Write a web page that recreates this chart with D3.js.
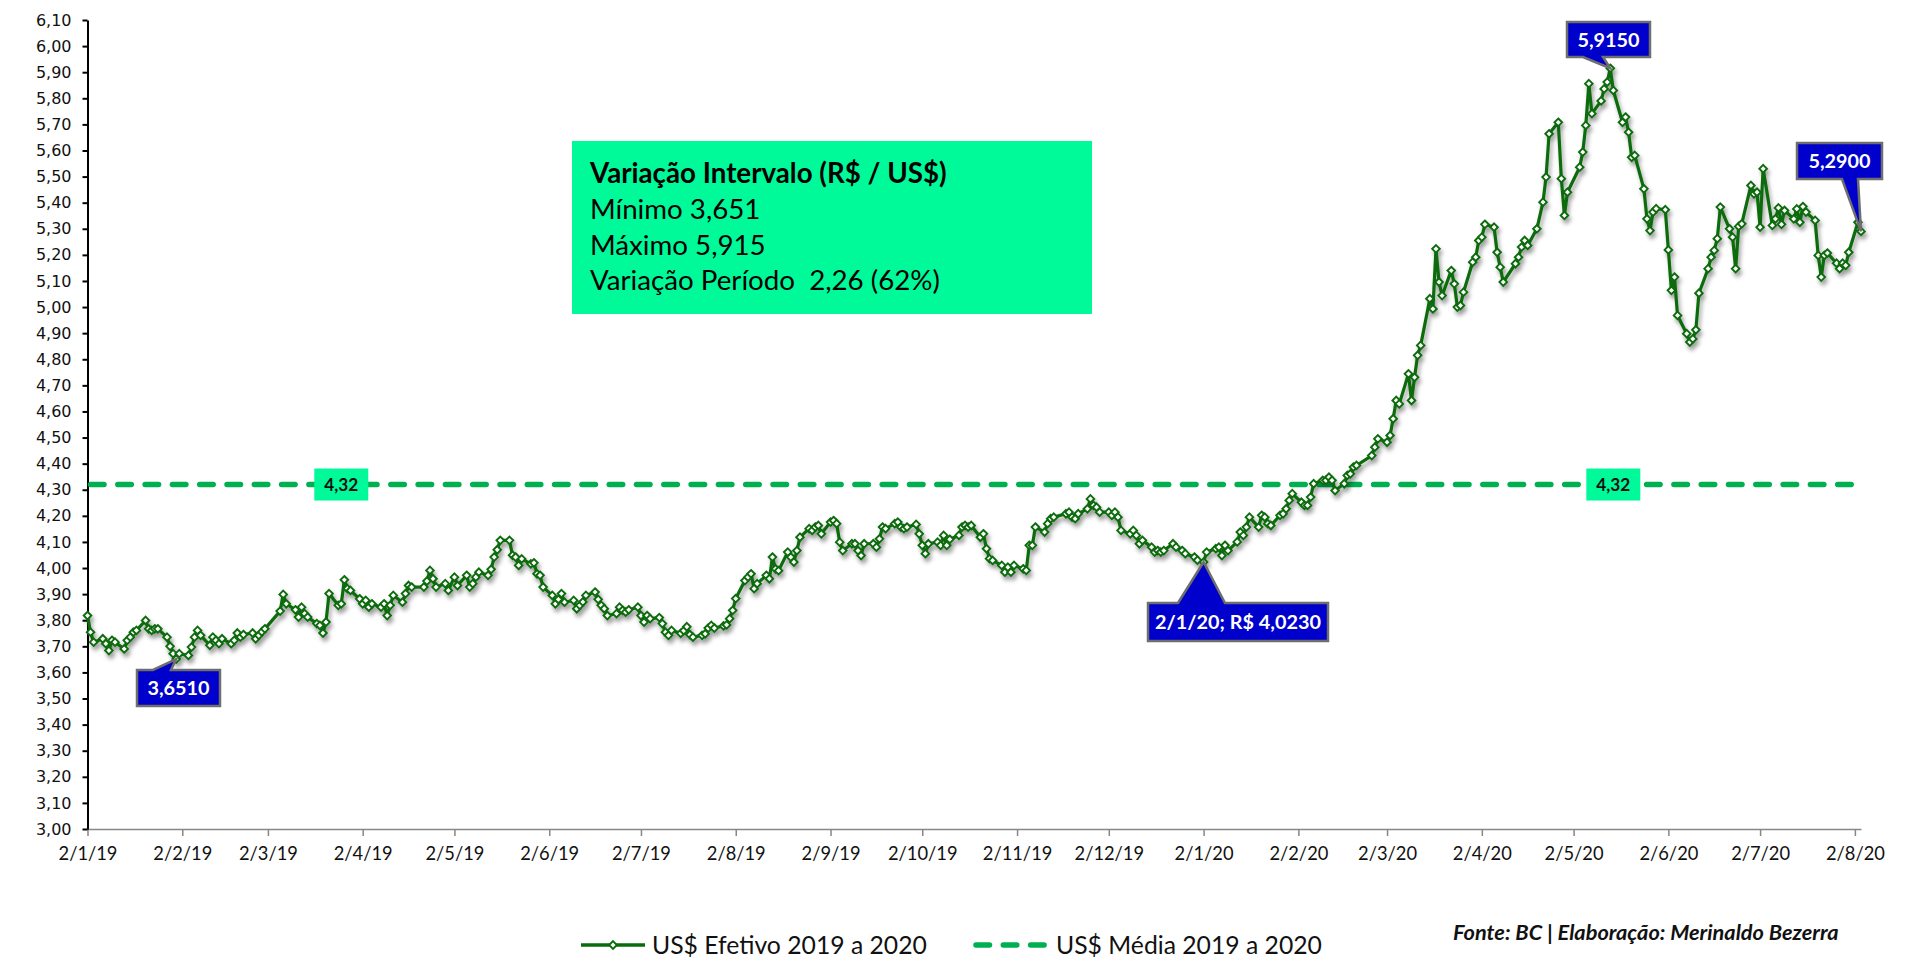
<!DOCTYPE html>
<html><head><meta charset="utf-8">
<script src="https://cdn.jsdelivr.net/npm/d3@7"></script>
<style>
html,body{margin:0;padding:0;background:#fff;}
svg{display:block;}
text{white-space:pre;}
</style></head><body>
<svg id="chart" width="1907" height="960"></svg>
<script>
// ---------------- DATA ----------------
const startDate = "2019-01-02";
const endDate = "2020-08-04";
const holidays = ["2019-03-04","2019-03-05","2019-04-19","2019-05-01","2019-11-15","2019-12-25",
                  "2020-01-01","2020-02-24","2020-02-25","2020-04-10","2020-04-21","2020-05-01"];

// US$ Efetivo, one value per trading day (R$ / US$)
const values2019 = [
  // Jan
  3.818,3.754,3.716,3.729,3.710,3.684,3.723,3.716,3.690,3.723,3.735,3.754,3.761,3.799,3.767,3.761,3.767,3.767,3.735,3.700,3.672,3.651,
  // Feb
  3.672,3.665,3.697,3.735,3.761,3.742,3.704,3.735,3.723,3.710,3.729,3.710,3.723,3.751,3.735,3.745,3.751,3.729,3.742,3.755,
  // Mar
  3.767,3.835,3.899,3.863,3.840,3.812,3.850,3.825,3.812,3.787,3.780,3.751,3.793,3.902,3.857,3.863,3.955,3.921,3.914,
  // Apr
  3.882,3.863,3.876,3.850,3.863,3.850,3.863,3.818,3.857,3.895,3.869,3.902,3.933,3.927,3.927,3.950,3.991,3.959,3.927,3.940,3.914,
  // May
  3.965,3.933,3.972,3.927,3.940,3.965,3.984,3.972,3.995,4.042,4.070,4.106,4.106,4.049,4.042,4.010,4.035,4.016,4.020,3.978,3.972,3.927,
  // Jun
  3.895,3.863,3.880,3.902,3.869,3.876,3.844,3.857,3.870,3.895,3.908,3.880,3.857,3.844,3.818,3.825,3.850,3.838,3.831,3.840,
  // Jul
  3.850,3.818,3.793,3.818,3.806,3.810,3.787,3.754,3.742,3.761,3.750,3.760,3.775,3.745,3.735,3.742,3.748,3.770,3.780,3.770,3.778,3.782,3.806,
  // Aug
  3.838,3.883,3.952,3.965,3.978,3.921,3.940,3.972,3.959,4.042,3.997,3.990,4.061,4.042,4.023,4.067,4.118,4.151,4.144,4.157,4.163,4.131,
  // Sep
  4.176,4.182,4.170,4.099,4.067,4.093,4.093,4.067,4.048,4.093,4.093,4.080,4.112,4.157,4.151,4.170,4.176,4.157,4.151,4.157,4.167,
  // Oct
  4.131,4.087,4.055,4.093,4.099,4.087,4.125,4.087,4.110,4.125,4.157,4.163,4.157,4.163,4.118,4.131,4.074,4.036,4.029,4.010,3.984,4.003,3.984,
  // Nov
  4.010,3.997,3.991,4.087,4.087,4.157,4.138,4.170,4.189,4.195,4.208,4.214,4.195,4.189,4.208,4.227,4.265,4.240,4.233,4.214,
  // Dec
  4.214,4.202,4.214,4.195,4.144,4.131,4.144,4.125,4.093,4.106,4.080,4.061,4.067,4.061,4.067,4.093,4.080,4.067,4.055,4.042,4.030
];
const values2020 = [
  // Jan
  4.023,4.061,4.074,4.080,4.048,4.087,4.067,4.100,4.138,4.125,4.157,4.195,4.157,4.202,4.195,4.170,4.163,4.202,4.208,4.227,4.259,4.285,
  // Feb
  4.252,4.240,4.240,4.272,4.323,4.336,4.336,4.348,4.336,4.297,4.323,4.355,4.361,4.387,4.393,4.431,4.463,4.495,
  // Mar
  4.482,4.508,4.572,4.642,4.629,4.744,4.642,4.731,4.815,4.853,5.032,4.993,5.223,5.096,5.044,5.140,5.089,5.000,5.006,5.057,5.172,5.191,
  // Apr
  5.255,5.268,5.317,5.306,5.210,5.153,5.096,5.166,5.191,5.230,5.255,5.236,5.300,5.402,5.498,5.664,5.708,5.492,5.351,5.440,
  // May
  5.536,5.594,5.696,5.856,5.741,5.790,5.836,5.862,5.915,5.830,5.708,5.728,5.670,5.574,5.581,5.453,5.338,5.293,5.364,5.377,
  // Jun
  5.373,5.219,5.064,5.115,4.968,4.898,4.866,4.878,4.913,5.053,5.147,5.191,5.217,5.262,5.383,5.300,5.268,5.147,5.309,5.319,5.466,5.434,
  // Jul
  5.440,5.306,5.530,5.313,5.338,5.380,5.317,5.370,5.338,5.376,5.325,5.385,5.364,5.332,5.198,5.115,5.198,5.207,5.168,5.147,5.168,5.160,5.210,
  // Aug
  5.325,5.290
];

const meanValue = 4.32;
const meanLabelDates = ["2019-03-26","2020-05-15"];

const yTickValues = [3.00,3.10,3.20,3.30,3.40,3.50,3.60,3.70,3.80,3.90,4.00,4.10,4.20,4.30,4.40,4.50,4.60,4.70,4.80,4.90,
                     5.00,5.10,5.20,5.30,5.40,5.50,5.60,5.70,5.80,5.90,6.00,6.10];
const xTickValues = ["2019-01-02","2019-02-02","2019-03-02","2019-04-02","2019-05-02","2019-06-02","2019-07-02",
                     "2019-08-02","2019-09-02","2019-10-02","2019-11-02","2019-12-02","2020-01-02","2020-02-02",
                     "2020-03-02","2020-04-02","2020-05-02","2020-06-02","2020-07-02","2020-08-02"];

const calloutDates  = ["2019-01-31","2020-01-02","2020-05-14","2020-08-04"];
const calloutValues = [3.651, 4.023, 5.915, 5.290];
const calloutTexts  = ["3,6510","2/1/20; R$ 4,0230","5,9150","5,2900"];

const infoTitle = "Variação Intervalo (R$ / US$)";
const infoLines = ["Mínimo 3,651","Máximo 5,915","Variação Período  2,26 (62%)"];
const legendLabels = ["US$ Efetivo 2019 a 2020","US$ Média 2019 a 2020"];
const sourceText = "Fonte: BC | Elaboração: Merinaldo Bezerra";

// ---------------- BUILD ----------------
const parseDate = d3.utcParse("%Y-%m-%d");
const fmtKey = d3.utcFormat("%Y-%m-%d");
const holidaySet = new Set(holidays);
const tradingDays = [];
for (let d = parseDate(startDate); d <= parseDate(endDate); d = d3.utcDay.offset(d, 1)) {
  const wd = d.getUTCDay();
  if (wd !== 0 && wd !== 6 && !holidaySet.has(fmtKey(d))) tradingDays.push(d);
}
const allValues = values2019.concat(values2020);
const series = allValues.map((v, i) => ({date: tradingDays[i], value: v})).filter(d => d.date);

const svg = d3.select("#chart");
const X0 = 87.5, X1 = 1861, Y0 = 829, Y1 = 20;
const x = d3.scaleUtc().domain([parseDate(startDate), parseDate(endDate)]).range([X0, X1]);
const y = d3.scaleLinear().domain([3.0, 6.1]).range([Y0, Y1]);

const LINE = "#0a6b0a", MEAN = "#00B050", MINT = "#00FA9A", CALL = "#0000CC";
const SANS = "Lato, 'Open Sans', sans-serif";

function fitSize(str, family, weight, style, target) {
  const t = svg.append("text").attr("font-family", family).attr("font-weight", weight)
    .attr("font-style", style).attr("font-size", 100).text(str);
  const w = t.node().getComputedTextLength();
  t.remove();
  return 100 * target / w;
}

const defs = svg.append("defs");
const f = defs.append("filter").attr("id", "shadow").attr("x", "-5%").attr("y", "-5%")
  .attr("width", "110%").attr("height", "120%");
f.append("feDropShadow").attr("dx", 2).attr("dy", 4).attr("stdDeviation", 2.2)
  .attr("flood-color", "#000").attr("flood-opacity", 0.38);

// X axis
const xFont = fitSize("2/1/19", SANS, "normal", "normal", 59);
const gx = svg.append("g").attr("transform", `translate(0,${Y0})`)
  .call(d3.axisBottom(x).tickValues(xTickValues.map(parseDate)).tickSize(7).tickSizeOuter(0)
    .tickPadding(11).tickFormat(d3.utcFormat("%-d/%-m/%y")));
gx.select(".domain").attr("stroke", "#878787").attr("stroke-width", 1.5);
gx.selectAll(".tick line").attr("stroke", "#878787").attr("stroke-width", 1.5);
gx.selectAll("text").attr("font-family", SANS).attr("font-size", xFont).attr("fill", "#111");

// Y axis
const gy = svg.append("g").attr("transform", `translate(${X0},0)`)
  .call(d3.axisLeft(y).tickValues(yTickValues).tickSize(5).tickSizeOuter(0).tickPadding(11)
    .tickFormat(d => d.toFixed(2).replace(".", ",")));
gy.select(".domain").attr("stroke", "#000").attr("stroke-width", 2);
gy.selectAll(".tick line").attr("stroke", "#000").attr("stroke-width", 2);
gy.selectAll("text").attr("font-family", "'DejaVu Sans', Verdana, sans-serif").attr("font-size", 16).attr("fill", "#111");

// Mean dashed line
const dash = "13.5,13.8";
svg.append("line").attr("x1", X0 + 3).attr("x2", X1).attr("y1", y(meanValue)).attr("y2", y(meanValue))
  .attr("stroke", MEAN).attr("stroke-width", 5.5).attr("stroke-dasharray", dash).attr("stroke-linecap", "round");

// Series with shadow
const gs = svg.append("g").attr("filter", "url(#shadow)");
gs.append("path").datum(series)
  .attr("d", d3.line().x(d => x(d.date)).y(d => y(d.value)))
  .attr("fill", "none").attr("stroke", LINE).attr("stroke-width", 3.2).attr("stroke-linejoin", "round");
const diamond = r => `M0,${-r}L${r},0L0,${r}L${-r},0Z`;
gs.selectAll("path.mk").data(series).join("path").attr("class", "mk")
  .attr("transform", d => `translate(${x(d.date)},${y(d.value)})`)
  .attr("d", diamond(3.8)).attr("fill", "#fff").attr("stroke", LINE).attr("stroke-width", 1.9);

// Mean labels
const mFont = fitSize("4,32", SANS, "bold", "normal", 34);
meanLabelDates.forEach(ds => {
  const cx = x(parseDate(ds)), cy = y(meanValue);
  svg.append("rect").attr("x", cx - 27).attr("y", cy - 16).attr("width", 54).attr("height", 32).attr("fill", MINT);
  svg.append("text").attr("x", cx).attr("y", cy).attr("dy", "0.36em").attr("text-anchor", "middle")
    .attr("font-family", SANS).attr("font-weight", "bold").attr("font-size", mFont).attr("fill", "#111").text("4,32");
});

// Info box
svg.append("rect").attr("x", 572).attr("y", 141).attr("width", 520).attr("height", 173).attr("fill", MINT);
const infoFont = fitSize(infoLines[2], SANS, "normal", "normal", 350);
const titleFont = fitSize(infoTitle, SANS, "bold", "normal", 361);
svg.append("text").attr("x", 590).attr("y", 183).attr("font-family", SANS).attr("font-weight", "bold")
  .attr("font-size", Math.min(titleFont, infoFont)).attr("fill", "#000").text(infoTitle);
infoLines.forEach((s, i) => {
  svg.append("text").attr("x", 590).attr("y", 219 + i * 35.5).attr("font-family", SANS)
    .attr("font-size", infoFont).attr("fill", "#000").text(s);
});

// Callouts
const boxes = [
  {bx: 137, by: 670, w: 83, h: 36, side: "top", t1: 153, t2: 171},
  {bx: 1148, by: 603, w: 180, h: 38, side: "top", t1: 1178, t2: 1225},
  {bx: 1567, by: 22, w: 83, h: 35, side: "bottom", t1: 1583, t2: 1603},
  {bx: 1797, by: 143, w: 85, h: 36, side: "bottom", t1: 1842, t2: 1858}
];
const cFont = fitSize(calloutTexts[1], SANS, "bold", "normal", 166);
calloutTexts.forEach((txt, i) => {
  const b = boxes[i];
  const tx = x(parseDate(calloutDates[i])), ty = y(calloutValues[i]);
  let p;
  if (b.side === "top") {
    p = `M${b.bx},${b.by}L${b.t1},${b.by}L${tx},${ty}L${b.t2},${b.by}L${b.bx + b.w},${b.by}L${b.bx + b.w},${b.by + b.h}L${b.bx},${b.by + b.h}Z`;
  } else {
    p = `M${b.bx},${b.by}L${b.bx + b.w},${b.by}L${b.bx + b.w},${b.by + b.h}L${b.t2},${b.by + b.h}L${tx},${ty}L${b.t1},${b.by + b.h}L${b.bx},${b.by + b.h}Z`;
  }
  svg.append("path").attr("d", p).attr("fill", CALL).attr("stroke", "#6e6e6e").attr("stroke-width", 2.5).attr("stroke-linejoin", "miter");
  svg.append("text").attr("x", b.bx + b.w / 2).attr("y", b.by + b.h / 2).attr("dy", "0.36em")
    .attr("text-anchor", "middle").attr("font-family", SANS).attr("font-weight", "bold")
    .attr("font-size", cFont).attr("fill", "#fff").text(txt);
});

// Legend
const lgY = 945;
const lgFont = fitSize(legendLabels[0], SANS, "normal", "normal", 275);
svg.append("line").attr("x1", 581).attr("x2", 645).attr("y1", lgY).attr("y2", lgY)
  .attr("stroke", LINE).attr("stroke-width", 3.5);
svg.append("path").attr("transform", `translate(613,${lgY})`).attr("d", diamond(3.8))
  .attr("fill", "#fff").attr("stroke", LINE).attr("stroke-width", 1.9);
svg.append("text").attr("x", 652).attr("y", lgY).attr("dy", "0.36em").attr("font-family", SANS)
  .attr("font-size", lgFont).attr("fill", "#111").text(legendLabels[0]);
svg.append("line").attr("x1", 976).attr("x2", 1048).attr("y1", lgY).attr("y2", lgY)
  .attr("stroke", MEAN).attr("stroke-width", 5.5).attr("stroke-dasharray", dash).attr("stroke-linecap", "round");
svg.append("text").attr("x", 1056).attr("y", lgY).attr("dy", "0.36em").attr("font-family", SANS)
  .attr("font-size", lgFont).attr("fill", "#111").text(legendLabels[1]);

// Source
const srcFont = fitSize(sourceText, SANS, "bold", "italic", 386);
svg.append("text").attr("x", 1453).attr("y", 932).attr("dy", "0.36em").attr("font-family", SANS)
  .attr("font-weight", "bold").attr("font-style", "italic").attr("font-size", srcFont).attr("fill", "#111").text(sourceText);
</script>
</body></html>
